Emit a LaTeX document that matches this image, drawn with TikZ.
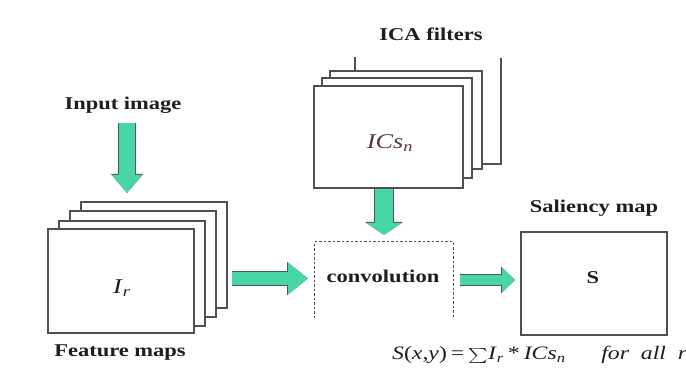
\documentclass[tikz,border=0pt]{standalone}
\usepackage{fontspec}
\setmainfont{Liberation Serif}
\usetikzlibrary{arrows.meta}
\definecolor{arrgreen}{RGB}{72,214,164}
\definecolor{arredge}{RGB}{70,95,85}
\definecolor{boxline}{RGB}{80,80,80}
\definecolor{txt}{RGB}{30,30,30}
\definecolor{icscol}{RGB}{85,55,75}
\newcommand\widetxt[1]{\scalebox{1.25}[1]{#1}}
\tikzset{
  x=1pt, y=-1pt,
  box/.style={draw=boxline, line width=1.1pt, fill=white, inner sep=0pt},
  lbl/.style={font=\fontsize{18}{22}\selectfont\bfseries, text=txt, inner sep=0pt, anchor=base},
  fat/.style n args={3}{line width=#1, draw=arrgreen,
     -{Triangle[length=#2, width=#3, fill=arrgreen]},
     preaction={draw=arredge, line width=#1+1.2pt,
     -{Triangle[length=#2+1pt, width=#3+2pt, fill=arredge]}}},
}
\begin{document}
\begin{tikzpicture}
\useasboundingbox (0,0) rectangle (686,379);
\fill[white] (0,0) rectangle (686,379);

% Feature maps stack
\node[box, minimum width=146, minimum height=106] (fm4) at (154,255) {};
\node[box, minimum width=146, minimum height=106] (fm3) at (143,264) {};
\node[box, minimum width=146, minimum height=105] (fm2) at (132,273.5) {};
\node[box, minimum width=146, minimum height=104] (fm1) at (121,281) {};
\node[font=\fontsize{21}{24}\selectfont, text=txt] (ir) at (122,288) {\widetxt{\textit{I}\textsubscript{\textit{r}}}};
\node[lbl] (input) at (123,110) {\widetxt{Input image}};
\node[lbl] (feat) at (120,357) {\widetxt{Feature maps}};

% ICA stack
\coordinate (tickb) at (355,57);
\coordinate (tickt) at (355,71);
\coordinate (d1) at (501,58);
\coordinate (d2) at (501,164);
\coordinate (d3) at (482,164);
\draw[boxline, line width=1.1pt] (tickb) -- (tickt);
\draw[boxline, line width=1.1pt] (d1) -- (d2) -- (d3);
\node[box, minimum width=152, minimum height=98] (ic3) at (406,120) {};
\node[box, minimum width=150, minimum height=100] (ic2) at (397,128) {};
\node[box, minimum width=149, minimum height=102] (ic1) at (388.5,137) {};
\node[font=\fontsize{21}{24}\selectfont, text=icscol] (ics) at (390,143) {\widetxt{\textit{ICs}\textsubscript{\textit{n}}}};
\node[lbl] (ica) at (431,41) {\widetxt{ICA filters}};

% Convolution (open bottom, dashed)
\node[minimum width=138, minimum height=76, inner sep=0pt] (conv) at (384,280) {};
\draw[boxline, line width=0.9pt, dash pattern=on 2.5pt off 2pt]
  (conv.south west) -- (conv.north west) -- (conv.north east) -- (conv.south east);
\node[lbl] (convt) at (383,283) {\widetxt{convolution}};

% Saliency map
\node[box, minimum width=146, minimum height=103] (sal) at (594,283.5) {};
\node[lbl] (s) at (593,284) {\widetxt{S}};
\node[lbl] (salt) at (594,213) {\widetxt{Saliency map}};

% Formula
\node[anchor=base west, font=\fontsize{19}{22}\selectfont, text=txt, inner sep=0pt] (formula) at (392,360)
  {\widetxt{\textit{S}(\textit{x},\textit{y})\,=\,\raisebox{-2pt}{\scalebox{1.5}{$\sum$}}\textit{I}\textsubscript{\textit{r}}\,*\,\textit{ICs}\textsubscript{\textit{n}}\quad\ \ \textit{for\ \ all\ \ r}}};

% Green block arrows
\coordinate (a1s) at (127,123);
\coordinate (a1e) at (127,193);
\draw[fat={16pt}{18pt}{29pt}] (a1s) -- (a1e);
\coordinate (a2s) at (232,278.5);
\coordinate (a2e) at (308,278.5);
\draw[fat={13pt}{20pt}{30pt}] (a2s) -- (a2e);
\coordinate (a3e) at (384,235);
\draw[fat={18pt}{12pt}{35pt}] (ic1.south -| a3e) -- (a3e);
\coordinate (a4s) at (460,280);
\coordinate (a4e) at (515,280);
\draw[fat={10pt}{13pt}{24pt}] (a4s) -- (a4e);
\end{tikzpicture}
\end{document}
